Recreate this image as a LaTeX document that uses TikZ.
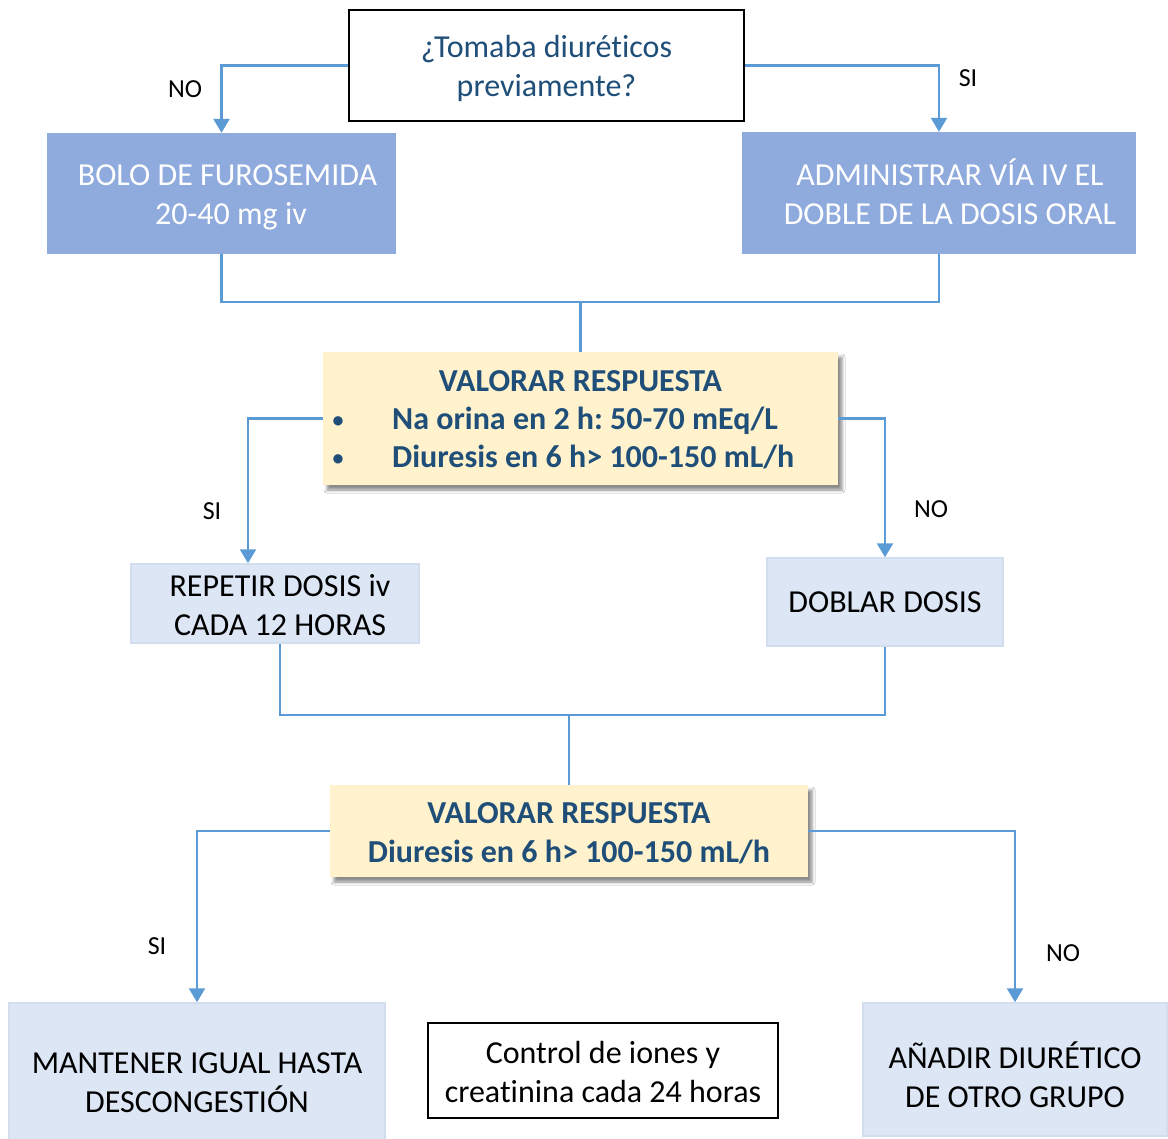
\documentclass[tikz,border=0pt]{standalone}
\usepackage{fontspec}
\setmainfont{Carlito}[Ligatures=NoCommon]
\usetikzlibrary{arrows.meta,shadows.blur}
\definecolor{flowblue}{HTML}{5B9BD5}
\definecolor{midblue}{HTML}{8FAADC}
\definecolor{paleblue}{HTML}{DCE6F4}
\definecolor{paleedge}{HTML}{D2DEF0}
\definecolor{cream}{HTML}{FFF2CC}
\definecolor{navy}{HTML}{1F4E79}
% two centred lines with a fixed line box above and below
\newcommand\twolines[3][32pt]{\rule{0pt}{#1}#2\\#3\rule[-8pt]{0pt}{8pt}}
\frenchspacing
\begin{document}
\begin{tikzpicture}[x=1pt,y=-1pt,
  box/.style={rectangle, inner sep=0pt, align=center,
    font=\fontsize{32}{39}\selectfont},
  question/.style={box, draw=black, line width=1.5pt, fill=white},
  strongbox/.style={box, fill=midblue, text=white},
  softbox/.style={box, fill=paleblue, draw=paleedge, line width=1.5pt, text=black},
  assess/.style={box, fill=cream, text=navy,
    font=\fontsize{32}{39}\selectfont\bfseries,
    blur shadow={shadow xshift=4pt, shadow yshift=-5pt,
      shadow opacity=45, shadow blur radius=3pt}},
  boldtxt/.style={inner sep=0pt, text=navy, anchor=base,
    font=\fontsize{32}{39}\selectfont\bfseries},
  dot/.style={inner sep=0pt, text=navy, anchor=base,
    font=\fontsize{22}{26}\selectfont\bfseries},
  answer/.style={inner sep=0pt, text=black, font=\fontsize{26}{30}\selectfont},
  link/.style={draw=flowblue, line width=2.5pt},
  flow/.style={link, -{Triangle[width=16pt,length=14pt]}}
]
\useasboundingbox (0,0) rectangle (1168,1139);
\fill[white] (0,0) rectangle (1168,1139);
\clip (0,0) rectangle (1168,1139);

% decision at the top
\node[question, minimum width=395, minimum height=111, text=navy]
  (q) at (546.5,65.5) {\twolines{¿Tomaba diuréticos}{previamente?}};

% first treatment boxes
\node[strongbox, minimum width=349, minimum height=121]
  (bolo) at (221.5,193.5)
  {\twolines{\hspace*{12pt}BOLO DE FUROSEMIDA}{\hspace*{19pt}20-40 mg iv}};
\node[strongbox, minimum width=394, minimum height=122]
  (admin) at (939,193)
  {\twolines{\hspace*{22pt}ADMINISTRAR VÍA IV EL}{\hspace*{22pt}DOBLE DE LA DOSIS ORAL}};

% first assessment
\node[assess, minimum width=515, minimum height=133] (val1) at (580.5,418.5) {};
\node[boldtxt] (v1title) at (580.5,392) {VALORAR RESPUESTA};
\node[dot] (v1b1) at (338,428) {\textbullet};
\node[boldtxt, anchor=base west] (v1l1) at (392,430) {Na orina en 2 h: 50-70 mEq/L};
\node[dot] (v1b2) at (338,466) {\textbullet};
\node[boldtxt, anchor=base west] (v1l2) at (392,468) {Diuresis en 6 h> 100-150 mL/h};

% second step
\node[softbox, minimum width=288, minimum height=77]
  (rep) at (275,603.5)
  {\twolines{\hspace*{10pt}REPETIR DOSIS iv}{\hspace*{10pt}CADA 12 HORAS}};
\node[softbox, minimum width=236, minimum height=88]
  (dob) at (885,602) {DOBLAR DOSIS};

% second assessment
\node[assess, minimum width=478, minimum height=92]
  (val2) at (569,831)
  {\twolines{VALORAR RESPUESTA}{Diuresis en 6 h> 100-150 mL/h}};

% outcomes
\node[softbox, minimum width=376, minimum height=156]
  (mant) at (197,1081) {\twolines{MANTENER IGUAL HASTA}{DESCONGESTIÓN}};
\node[question, line width=1.2pt, minimum width=350, minimum height=95]
  (ctrl) at (603,1070.5) {\twolines{Control de iones y}{creatinina cada 24 horas}};
\node[softbox, minimum width=304, minimum height=133]
  (anad) at (1015,1069.5) {\twolines[44pt]{AÑADIR DIURÉTICO}{DE OTRO GRUPO}};

% junction points
\coordinate (j1) at (580.5,302);
\coordinate (j2) at (569,715);

% connectors
\draw[flow] (q.west) -| (bolo.north);
\draw[flow] (q.east) -| (admin.north);
\draw[link] (bolo.south) |- (j1) -| (admin.south);
\draw[link] (j1) -- (val1.north);
\draw[flow] (val1.west) -| ([xshift=-27pt]rep.north);
\draw[flow] (val1.east) -| (dob.north);
\draw[link] ([xshift=5pt]rep.south) |- (j2) -| (dob.south);
\draw[link] (j2) -- (val2.north);
\draw[flow] (val2.west) -| (mant.north);
\draw[flow] (val2.east) -| (anad.north);

% branch labels
\node[answer] (l1) at (185,89) {NO};
\node[answer] (l2) at (968,78) {SI};
\node[answer] (l3) at (212,511) {SI};
\node[answer] (l4) at (931,509) {NO};
\node[answer] (l5) at (157,946) {SI};
\node[answer] (l6) at (1063,953) {NO};
\end{tikzpicture}
\end{document}
